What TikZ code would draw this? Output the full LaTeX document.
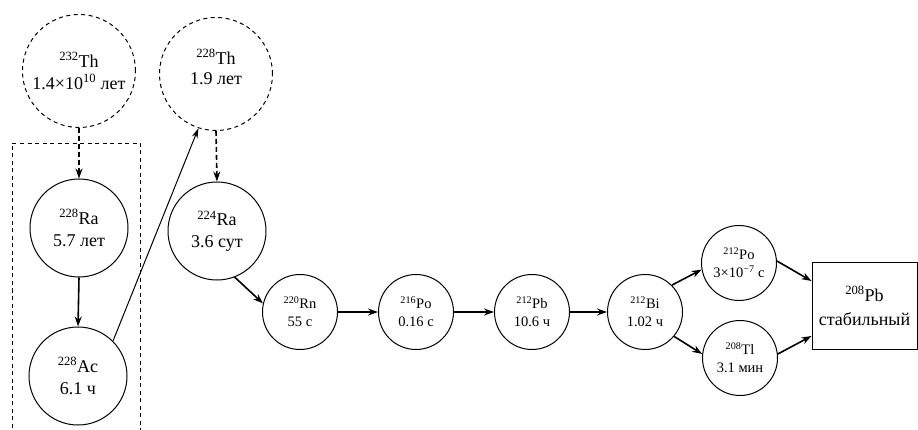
\documentclass[tikz,border=0pt]{standalone}
\usepackage{fontspec}
\setmainfont{Liberation Serif}
\usetikzlibrary{arrows.meta}
\begin{document}
\begin{tikzpicture}[x=1pt,y=-1pt,
  big/.style={circle,draw,line width=1pt,inner sep=0pt,minimum size=98pt,align=center,font=\fontsize{18}{22}\selectfont},
  small/.style={circle,draw,line width=1pt,inner sep=0pt,minimum size=75pt,align=center,font=\fontsize{14.5}{18}\selectfont},
  dcirc/.style={big,minimum size=113pt,dash pattern=on 4pt off 3.5pt},
  arr/.style={-{Stealth[length=10pt,width=7pt]},line width=1.6pt},
  darr/.style={arr,dash pattern=on 5pt off 3pt},
  thinarr/.style={-{Stealth[length=10pt,width=6pt]},line width=1pt}]
\useasboundingbox (0,0) rectangle (918,430);
\draw[line width=0.9pt,dash pattern=on 4pt off 3.5pt] (12,450) -- (12,143) -- (140,143) -- (140,450);
\node[dcirc] (th232) at (79,71) {\textsuperscript{232}Th\\1.4×10\textsuperscript{10} лет};
\node[dcirc] (th228) at (216,74) {};
\node[align=center,font=\fontsize{18}{20}\selectfont,inner sep=0pt] (th228t) at (216,67) {\textsuperscript{228}Th\\1.9 лет};
\node[big] (ra228) at (79,228) {\textsuperscript{228}Ra\\5.7 лет};
\node[big] (ac228) at (78,376) {\textsuperscript{228}Ac\\6.1 ч};
\node[big] (ra224) at (217,231) {\textsuperscript{224}Ra\\3.6 сут};
\node[small] (rn220) at (300,312) {\textsuperscript{220}Rn\\55 с};
\node[small] (po216) at (416,312) {\textsuperscript{216}Po\\0.16 с};
\node[small] (pb212) at (532,312) {\textsuperscript{212}Pb\\10.6 ч};
\node[small] (bi212) at (645,312) {\textsuperscript{212}Bi\\1.02 ч};
\node[small] (po212) at (739,263) {\textsuperscript{212}Po\\3×10\textsuperscript{−7} с};
\node[small] (tl208) at (740,358) {\textsuperscript{208}Tl\\3.1 мин};
\node[draw,line width=1pt,minimum width=105pt,minimum height=86pt,inner sep=0pt,align=center,font=\fontsize{18}{24}\selectfont] (pb208) at (864.5,306) {\textsuperscript{208}Pb\\стабильный};
\draw[darr] (th232.south) -- (ra228.north);
\draw[arr] (ra228.south) -- (ac228.north);
\draw[thinarr] (ac228.45) -- (th228.252);
\draw[darr] (th228.south) -- (ra224.north);
\draw[arr] (ra224.-69) -- (rn220.167);
\draw[arr] (rn220) -- (po216);
\draw[arr] (po216) -- (pb212);
\draw[arr] (pb212) -- (bi212);
\draw[arr] (bi212.45) -- (po212.190);
\draw[arr] (bi212.-40) -- (tl208.174);
\draw[arr] (po212.3) -- (pb208.west|-0,281);
\draw[arr] (tl208.6) -- (pb208.west|-0,336);
\end{tikzpicture}
\end{document}
